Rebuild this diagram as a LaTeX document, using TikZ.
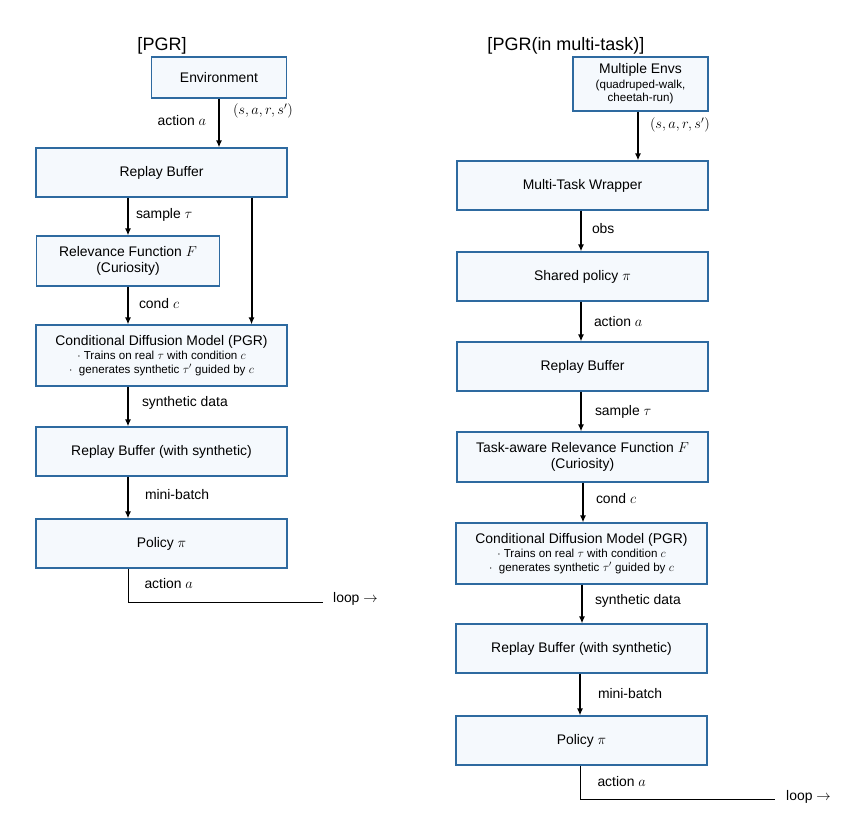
\documentclass[tikz,border=0pt]{standalone}
\usepackage{fontspec}
\setmainfont{Liberation Sans}
\usetikzlibrary{arrows.meta}
\definecolor{boxline}{HTML}{2E6AA0}
\definecolor{boxfill}{HTML}{F5F9FD}
\tikzset{
  box/.style={draw=boxline, fill=boxfill, line width=1.1pt, inner sep=0pt,
    align=center, font=\fontsize{13.9}{15.5}\selectfont},
  flow/.style={line width=2pt, -{Latex[length=7pt,width=6pt]}},
  tail/.style={line width=1pt},
  lbl/.style={font=\fontsize{13.9}{15.5}\selectfont, inner sep=0pt},
  title/.style={font=\fontsize{18}{20}\selectfont},
}
\newcommand{\subtxt}[1]{{\fontsize{11.6}{13}\selectfont #1}}
\begin{document}
\begin{tikzpicture}[x=1pt,y=-1pt]
        \useasboundingbox (0,0) rectangle (852,812);
        \node[title] (tleft) at (162,46) {[PGR]};
        \node[title] (tright) at (566,46) {[PGR(in multi-task)]};
        % left column
        \node[box, minimum width=135, minimum height=41] (env) at (219,77.5) {Environment};
        \node[box, minimum width=251, minimum height=49] (rb1) at (161.5,172.5) {Replay Buffer};
        \node[box, minimum width=183, minimum height=50] (rf1) at (128,261) {Relevance Function $F$\\(Curiosity)};
        \node[box, minimum width=251, minimum height=61] (cdm1) at (161.5,355.5) {Conditional Diffusion Model (PGR)\\[-1pt]\subtxt{$\cdot$ Trains on real $\tau$ with condition $c$}\\[-2pt]\subtxt{$\cdot$\ \ generates synthetic $\tau'$ guided by $c$}};
        \node[box, minimum width=251, minimum height=49] (rbs1) at (161.5,451.5) {Replay Buffer (with synthetic)};
        \node[box, minimum width=251, minimum height=49] (pol1) at (161.5,543.5) {Policy $\pi$};
        \coordinate (loop1) at (323,602);
        \draw[flow] (env) -- (env.south |- rb1.north)
          node[lbl, pos=0.44, left=12pt] {action $a$}
          node[lbl, pos=0.26, right=13pt] {$(s,a,r,s')$};
        \draw[flow] (rf1.north |- rb1.south) -- (rf1) node[lbl, pos=0.46, right=7pt] {sample $\tau$};
        \draw[flow] ([xshift=-36pt]rb1.south east) -- ([xshift=-36pt]cdm1.north east);
        \draw[flow] (rf1) -- (rf1.south |- cdm1.north) node[lbl, pos=0.44, right=10pt] {cond $c$};
        \draw[flow] (cdm1.south -| rf1.south) -- (rbs1.north -| rf1.south) node[lbl, pos=0.41, right=13pt] {synthetic data};
        \draw[flow] (rbs1.south -| rf1.south) -- (pol1.north -| rf1.south) node[lbl, pos=0.44, right=16pt] {mini-batch};
        \draw[tail] (pol1.south -| rf1.south) |- (loop1) node[lbl, pos=0.22, right=16pt] {action $a$};
        \node[lbl, anchor=west] (lp1) at ([xshift=10pt,yshift=3pt]loop1) {loop $\rightarrow$};
        % right column
        \node[box, minimum width=135, minimum height=54] (envs) at (640.5,84) {Multiple Envs\\[-1pt]\subtxt{(quadruped-walk,}\\[-2pt]\subtxt{cheetah-run)}};
        \node[box, minimum width=251, minimum height=49] (mtw) at (582.5,185.5) {Multi-Task Wrapper};
        \node[box, minimum width=251, minimum height=49] (sp) at (582.5,276.5) {Shared policy $\pi$};
        \node[box, minimum width=251, minimum height=49] (rb2) at (582.5,366.5) {Replay Buffer};
        \node[box, minimum width=251, minimum height=50] (rf2) at (582.5,457) {Task-aware Relevance Function $F$\\(Curiosity)};
        \node[box, minimum width=251, minimum height=61] (cdm2) at (581.5,553.5) {Conditional Diffusion Model (PGR)\\[-1pt]\subtxt{$\cdot$ Trains on real $\tau$ with condition $c$}\\[-2pt]\subtxt{$\cdot$\ \ generates synthetic $\tau'$ guided by $c$}};
        \node[box, minimum width=251, minimum height=49] (rbs2) at (581.5,648.5) {Replay Buffer (with synthetic)};
        \node[box, minimum width=251, minimum height=49] (pol2) at (581.5,740.5) {Policy $\pi$};
        \coordinate (loop2) at (775,799);
        \draw[flow] ([xshift=-2.5pt]envs.south) -- ([xshift=-2.5pt]envs.south |- mtw.north) node[lbl, pos=0.28, right=11pt] {$(s,a,r,s')$};
        \draw[flow] ([xshift=-1.5pt]mtw.south) -- ([xshift=-1.5pt]sp.north) node[lbl, pos=0.45, right=10pt] {obs};
        \draw[flow] ([xshift=-1.5pt]sp.south) -- ([xshift=-1.5pt]rb2.north) node[lbl, pos=0.49, right=12pt] {action $a$};
        \draw[flow] ([xshift=-1.5pt]rb2.south) -- ([xshift=-1.5pt]rf2.north) node[lbl, pos=0.51, right=13pt] {sample $\tau$};
        \draw[flow] ([xshift=0.5pt]rf2.south) -- ([xshift=0.5pt]rf2.south |- cdm2.north) node[lbl, pos=0.39, right=12pt] {cond $c$};
        \draw[flow] ([xshift=0.5pt]cdm2.south) -- ([xshift=0.5pt]rbs2.north) node[lbl, pos=0.43, right=12pt] {synthetic data};
        \draw[flow] ([xshift=-1.5pt]rbs2.south) -- ([xshift=-1.5pt]pol2.north) node[lbl, pos=0.47, right=17pt] {mini-batch};
        \draw[tail] ([xshift=-1.5pt]pol2.south) |- (loop2) node[lbl, pos=0.24, right=17pt] {action $a$};
        \node[lbl, anchor=west] (lp2) at ([xshift=11pt,yshift=2pt]loop2) {loop $\rightarrow$};
\end{tikzpicture}
\end{document}
